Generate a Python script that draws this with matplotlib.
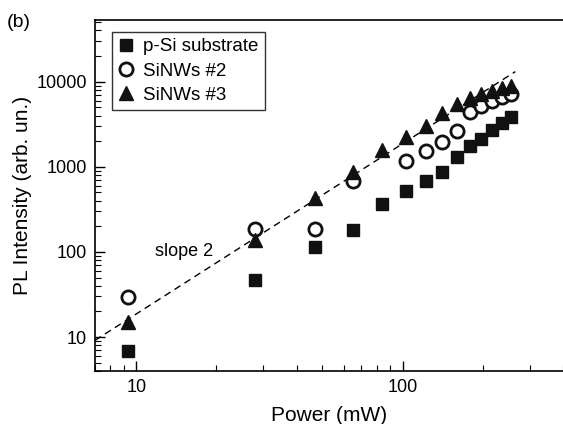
import matplotlib
matplotlib.use("Agg")
import matplotlib.pyplot as plt
import numpy as np

plt.rcParams['font.family'] = ['Liberation Sans', 'DejaVu Sans']

power = [9.3, 28, 47, 65, 84, 103, 122, 141, 160, 179, 197, 216, 236, 255]
psi_sub = [6.8, 47, 114, 180, 364, 518, 684, 860, 1310, 1750, 2120, 2700, 3290, 3810]
power_nw2 = [9.3, 28, 47, 65, 103, 122, 141, 160, 179, 197, 216, 236, 255]
sinw2 = [29.5, 188, 188, 684, 1167, 1543, 1936, 2630, 4365, 5176, 5930, 6665, 7165]
sinw3 = [15, 140, 425, 873, 1572, 2254, 3011, 4318, 5466, 6486, 7111, 7778, 8365, 8899]

fit_power = [7.0, 265.0]
fit_slope = 2
fit_prefactor = 0.187

fig = plt.figure(figsize=(5.63, 4.24), dpi=100)
ax = fig.add_axes([95/563, 53/424, 1 - 95/563, 351/424])
ax.set_xscale('log')
ax.set_yscale('log')
ax.set_xlim(7, 400)
ax.set_ylim(4, 53000)

fx = np.array(fit_power)
ax.plot(fx, fit_prefactor * fx**fit_slope, color='black', lw=1.0, ls=(0, (5, 3.5)), zorder=1)

ax.plot(power, psi_sub, ls='none', marker='s', ms=8.5, color='#111111', label='p-Si substrate', zorder=3)
ax.plot(power_nw2, sinw2, ls='none', marker='o', ms=9.5, mfc='white', mec='#111111', mew=2.0, label='SiNWs #2', zorder=2)
ax.plot(power, sinw3, ls='none', marker='^', ms=10.5, color='#111111', label='SiNWs #3', zorder=3)

ax.text(11.8, 100, 'slope 2', fontsize=13, va='center', ha='left')

for s in ['left', 'bottom', 'top']:
    ax.spines[s].set_linewidth(1.2)
ax.spines['right'].set_visible(False)

ax.set_xticks([10, 100])
ax.set_xticklabels(['10', '100'])
ax.set_yticks([10, 100, 1000, 10000])
ax.set_yticklabels(['10', '100', '1000', '10000'])
ax.tick_params(which='major', direction='in', length=7, width=1.0, labelsize=13, top=False, right=False, pad=6)
ax.tick_params(which='minor', direction='in', length=4, width=0.8, top=False, right=False)
ax.xaxis.set_minor_locator(matplotlib.ticker.LogLocator(base=10, subs=np.arange(2, 10)))
ax.yaxis.set_minor_locator(matplotlib.ticker.LogLocator(base=10, subs=np.arange(2, 10)))
ax.xaxis.set_minor_formatter(matplotlib.ticker.NullFormatter())
ax.yaxis.set_minor_formatter(matplotlib.ticker.NullFormatter())

ax.set_xlabel('Power (mW)', fontsize=15)
ax.xaxis.set_label_coords(0.5, -0.1)
ax.set_ylabel('PL Intensity (arb. un.)', fontsize=15)
ax.yaxis.set_label_coords(-0.135, 0.5)

leg = ax.legend(loc='upper left', bbox_to_anchor=(0.0357, 0.967), borderaxespad=0,
                fontsize=13.5, frameon=True, fancybox=False, edgecolor='black',
                handlelength=0.8, handletextpad=0.5, labelspacing=0.38, borderpad=0.35)
leg.get_frame().set_linewidth(1.0)

fig.text(7/563, 1 - 22.5/424, '(b)', fontsize=14, va='center', ha='left')

fig.savefig('out.png', dpi=100)
